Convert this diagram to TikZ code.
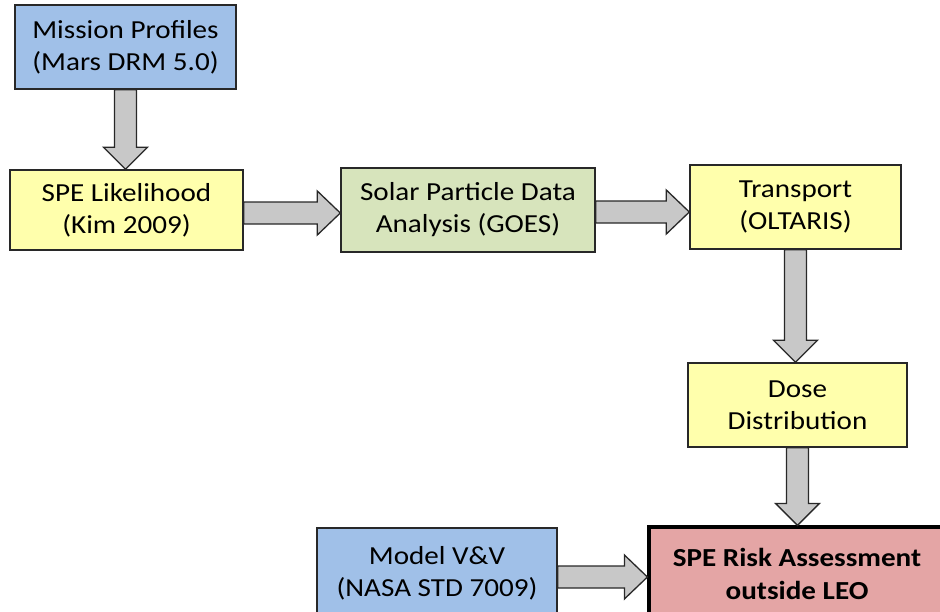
\documentclass[tikz,border=0pt]{standalone}
\usepackage{fontspec}
\setmainfont{Carlito}[FakeStretch=1.12]
\usetikzlibrary{calc}
\definecolor{boxblue}{RGB}{160,192,232}
\definecolor{boxyellow}{RGB}{255,255,172}
\definecolor{boxgreen}{RGB}{215,228,188}
\definecolor{boxpink}{RGB}{228,165,165}
\definecolor{arrowgray}{RGB}{200,200,200}
\definecolor{edgegray}{RGB}{40,40,40}
\tikzset{
  box/.style={draw=edgegray, line width=1.4pt, align=center, inner sep=0pt,
    font=\fontsize{26}{32}\selectfont, text=black},
  blk/.style={fill=arrowgray, draw=edgegray, line width=1.3pt, line join=miter},
}
\newcommand{\downarrowblk}[2]{%
  \draw[blk] let \p1=(#1.south), \p2=(#2.north) in
    (\x1-11pt,\y1) -- (\x1-11pt,\y2+22pt) -- (\x1-22pt,\y2+22pt) -- (\x1,\y2)
    -- (\x1+22pt,\y2+22pt) -- (\x1+11pt,\y2+22pt) -- (\x1+11pt,\y1) -- cycle;}
\newcommand{\rightarrowblk}[3]{%
  \draw[blk] let \p1=(#1.east), \p2=(#2.west) in
    (\x1,\y1+#3+11pt) -- (\x2-23pt,\y1+#3+11pt) -- (\x2-23pt,\y1+#3+22pt) -- (\x2,\y1+#3)
    -- (\x2-23pt,\y1+#3-22pt) -- (\x2-23pt,\y1+#3-11pt) -- (\x1,\y1+#3-11pt) -- cycle;}
\begin{document}
\begin{tikzpicture}[x=1pt,y=-1pt]
\path[use as bounding box] (0,0) rectangle (940,611);
\begin{scope}
\clip (0,0) rectangle (940,611);
\node[box, fill=boxblue, minimum width=221pt, minimum height=84pt] (mission) at (125.5,47) {Mission Profiles\\(Mars DRM 5.0)};
\node[box, fill=boxyellow, minimum width=233pt, minimum height=80pt] (spe) at (126.5,210) {SPE Likelihood\\(Kim 2009)};
\node[box, fill=boxgreen, minimum width=254pt, minimum height=84pt] (solar) at (468,210) {Solar Particle Data\\Analysis (GOES)};
\node[box, fill=boxyellow, minimum width=211pt, minimum height=84pt] (transport) at (795.5,207) {Transport\\(OLTARIS)};
\node[box, fill=boxyellow, minimum width=219pt, minimum height=84pt] (dose) at (797.5,405) {Dose\\Distribution};
\node[box, fill=boxblue, minimum width=240pt, minimum height=90pt] (model) at (437,573) {Model V\&V\\(NASA STD 7009)};
\node[box, fill=boxpink, draw=black, line width=3.2pt, minimum width=296pt, minimum height=94pt,
  font=\fontsize{26}{33}\selectfont\bfseries] (risk) at (797,574) {SPE Risk Assessment\\outside LEO};
\downarrowblk{mission}{spe}
\rightarrowblk{spe}{solar}{-3pt}
\rightarrowblk{solar}{transport}{-2pt}
\downarrowblk{transport}{dose}
\downarrowblk{dose}{risk}
\rightarrowblk{model}{risk}{-4pt}
\end{scope}
\end{tikzpicture}
\end{document}
